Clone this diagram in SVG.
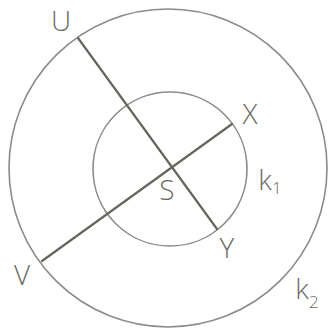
<svg xmlns="http://www.w3.org/2000/svg" width="328" height="334" viewBox="0 0 328 334">
<style>
.c{fill:none;stroke:#8c8c86;stroke-width:1.6}
.l{stroke:#66665f;stroke-width:2.2;stroke-linecap:round}
.t{font-family:"Open Sans","Liberation Sans",sans-serif;font-weight:300;font-size:28px;fill:#6a6a64;text-anchor:middle}
.s{font-size:17px}
</style>
<rect width="328" height="334" fill="#ffffff"/>
<g id="k2">
<circle class="c" cx="168" cy="168" r="159"/>
<text class="t" x="307" y="299">k<tspan class="s" dy="9">2</tspan></text>
</g>
<g id="k1">
<circle class="c" cx="170" cy="169" r="77"/>
<text class="t" x="270" y="190">k<tspan class="s" dy="4">1</tspan></text>
</g>
<g id="connectors">
<line class="l" x1="78" y1="38" x2="217" y2="229"/>
<line class="l" x1="42" y1="261" x2="232" y2="124"/>
</g>
<g id="U"><text class="t" x="61" y="31">U</text></g>
<g id="X"><text class="t" x="250" y="124">X</text></g>
<g id="S"><text class="t" x="167" y="200">S</text></g>
<g id="Y"><text class="t" x="227" y="258">Y</text></g>
<g id="V"><text class="t" x="22" y="285">V</text></g>
</svg>
